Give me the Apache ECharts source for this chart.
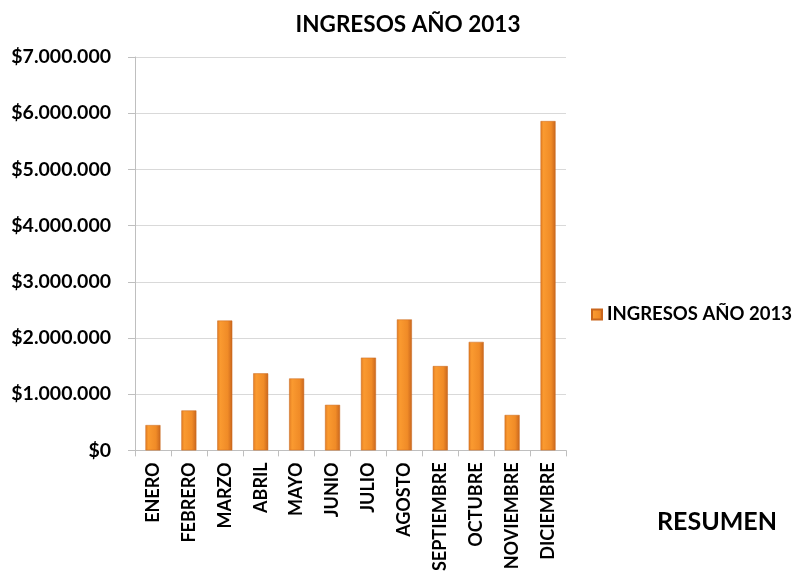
<!DOCTYPE html>
<html><head><meta charset="utf-8">
<script src="https://cdn.jsdelivr.net/npm/echarts@6/dist/echarts.min.js"></script>
<style>html,body{margin:0;padding:0;background:#fff}#c{width:794px;height:574px}</style>
</head><body><div id="c"></div>
<script>
var categories = ['ENERO','FEBRERO','MARZO','ABRIL','MAYO','JUNIO','JULIO','AGOSTO','SEPTIEMBRE','OCTUBRE','NOVIEMBRE','DICIEMBRE'];
var ingresos = [450000, 710000, 2310000, 1370000, 1280000, 810000, 1650000, 2330000, 1500000, 1930000, 630000, 5860000];
var seriesName = 'INGRESOS AÑO 2013';
var titleText = 'INGRESOS AÑO 2013';
var footText = 'RESUMEN';

var FONT = 'Lato, "Open Sans", sans-serif';
function money(v){
  var s = String(Math.round(v));
  return '$' + s.replace(/\B(?=(\d{3})+(?!\d))/g, '.');
}
var barColor = new echarts.graphic.LinearGradient(0,0,1,0,[
  {offset:0, color:'#e27c22'},
  {offset:0.2, color:'#fa9a30'},
  {offset:0.7, color:'#f08b27'},
  {offset:1, color:'#c9661d'}
]);
var chart = echarts.init(document.getElementById('c'));
chart.setOption({
  animation:false,
  title:{text:titleText, left:403, textAlign:'center', top:8,
    textStyle:{fontFamily:FONT, fontWeight:'bold', fontSize:22.5, color:'#000'}},
  legend:{data:[{name:seriesName, icon:'rect'}], left:586, top:300, itemWidth:10, itemHeight:10, itemGap:8,
    textStyle:{fontFamily:FONT, fontWeight:'bold', fontSize:18.5, color:'#000'}},
  grid:{left:135, right:228, top:57, bottom:122, containLabel:false},
  xAxis:{type:'category', data:categories,
    axisLine:{lineStyle:{color:'#bfbfbf'}},
    axisTick:{show:true, length:6, lineStyle:{color:'#bfbfbf'}},
    axisLabel:{rotate:90, margin:12, fontFamily:FONT, fontWeight:'bold', fontSize:18, color:'#000', interval:0}},
  yAxis:{type:'value', min:0, max:7000000, interval:1000000,
    axisLine:{show:true, lineStyle:{color:'#bfbfbf'}},
    axisTick:{show:true, length:7, lineStyle:{color:'#bfbfbf'}},
    splitLine:{lineStyle:{color:'#d9d9d9'}},
    axisLabel:{formatter:money, margin:24, fontFamily:FONT, fontWeight:'bold', fontSize:19.5, color:'#000'}},
  graphic:[{type:'text', left:657, top:509, style:{text:footText, fontFamily:FONT, fontWeight:'bold', fontSize:25, fill:'#000'}}],
  series:[{type:'bar', name:seriesName, data:ingresos, barWidth:15,
    itemStyle:{color:barColor, borderColor:'#c9661d', borderWidth:0.5}}]
});
</script></body></html>
